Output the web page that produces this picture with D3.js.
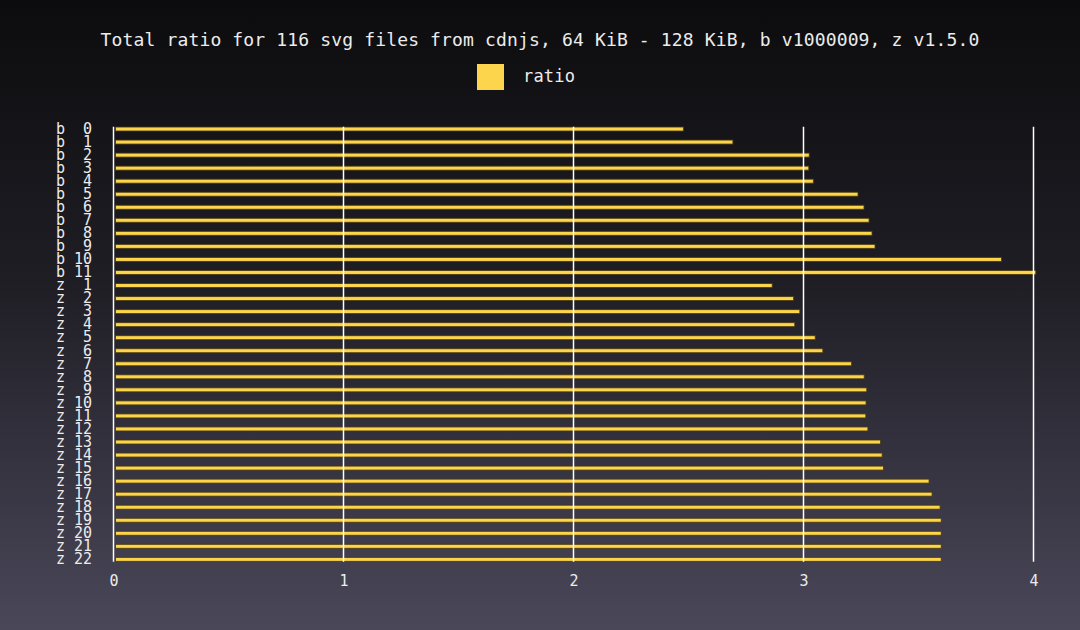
<!DOCTYPE html>
<html>
<head>
<meta charset="utf-8">
<script src="https://cdn.jsdelivr.net/npm/d3@7"></script>
<style>
  html, body { margin: 0; padding: 0; background: #0c0c0e; }
  svg { display: block; }
</style>
</head>
<body>
<svg id="chart" width="1080" height="630"></svg>
<script>
const categories = ["b  0","b  1","b  2","b  3","b  4","b  5","b  6","b  7","b  8","b  9","b 10","b 11",
  "z  1","z  2","z  3","z  4","z  5","z  6","z  7","z  8","z  9","z 10","z 11","z 12","z 13","z 14","z 15",
  "z 16","z 17","z 18","z 19","z 20","z 21","z 22"];
const ratioValues = [2.478, 2.693, 3.025, 3.023, 3.043, 3.237, 3.263, 3.285, 3.298, 3.311, 3.861, 4.010,
  2.864, 2.957, 2.984, 2.962, 3.051, 3.084, 3.209, 3.264, 3.275, 3.272, 3.271, 3.280, 3.335, 3.342, 3.348,
  3.546, 3.559, 3.594, 3.599, 3.599, 3.599, 3.599];
const xTicks = [0, 1, 2, 3, 4];
const seriesName = "ratio";
const title = "Total ratio for 116 svg files from cdnjs, 64 KiB - 128 KiB, b v1000009, z v1.5.0";

const W = 1080, H = 630;
const mono = "'DejaVu Sans Mono', 'Liberation Mono', monospace";
const textColor = "#ececec";
const barColor = "#fdd54c";

const svg = d3.select("#chart");
const defs = svg.append("defs");
const grad = defs.append("linearGradient").attr("id", "bg").attr("x1", 0).attr("y1", 0).attr("x2", 0).attr("y2", 1);
grad.append("stop").attr("offset", "0%").attr("stop-color", "#0c0c0e");
grad.append("stop").attr("offset", "45%").attr("stop-color", "#1f1e25");
grad.append("stop").attr("offset", "100%").attr("stop-color", "#4a4759");
svg.append("rect").attr("width", W).attr("height", H).attr("fill", "url(#bg)");

const x = d3.scaleLinear().domain([0, 4]).range([113.5, 1033.5]);
const y = d3.scaleBand().domain(categories).range([122.5, 565.9]);

// title
svg.append("text")
  .attr("x", W / 2).attr("y", 46)
  .attr("text-anchor", "middle")
  .attr("fill", textColor)
  .style("font-family", mono).style("font-size", "18px").style("letter-spacing", "0.15px")
  .text(title);

// legend
svg.append("rect").attr("x", 477).attr("y", 64).attr("width", 27).attr("height", 26).attr("fill", barColor);
svg.append("text").attr("x", 523).attr("y", 82)
  .attr("fill", textColor)
  .style("font-family", mono).style("font-size", "17px").style("letter-spacing", "0.2px")
  .text(seriesName);

// bars
svg.append("g").selectAll("rect").data(categories).join("rect")
  .attr("x", x(0) + 2)
  .attr("y", d => y(d) + y.bandwidth() / 2 - 2)
  .attr("width", (d, i) => x(ratioValues[i]) - x(0) - 2)
  .attr("height", 4)
  .attr("fill", barColor)
  .attr("stroke", "rgba(70,55,15,0.85)")
  .attr("stroke-width", 1);

// grid lines (drawn over bars)
const gridTop = 126.7, gridBottom = 561.8;
svg.append("g").selectAll("line").data(xTicks).join("line")
  .attr("x1", d => x(d)).attr("x2", d => x(d))
  .attr("y1", gridTop).attr("y2", gridBottom)
  .attr("stroke", "#ffffff").attr("stroke-width", 1.5);

// x axis labels
const xAxis = d3.axisBottom(x).tickValues(xTicks).tickSize(0).tickPadding(0).tickFormat(d3.format("d"));
const gx = svg.append("g").attr("transform", `translate(0, 575)`).call(xAxis);
gx.select(".domain").remove();
gx.selectAll("text").attr("fill", textColor).attr("dy", "0.71em")
  .style("font-family", mono).style("font-size", "15px");

// y axis labels
const yAxis = d3.axisLeft(y).tickSize(0).tickPadding(0);
const gy = svg.append("g").attr("transform", `translate(92, 0)`).call(yAxis);
gy.select(".domain").remove();
gy.selectAll("text").attr("fill", textColor)
  .style("font-family", mono).style("font-size", "15px").style("white-space", "pre")
  .attr("xml:space", "preserve");
</script>
</body>
</html>
